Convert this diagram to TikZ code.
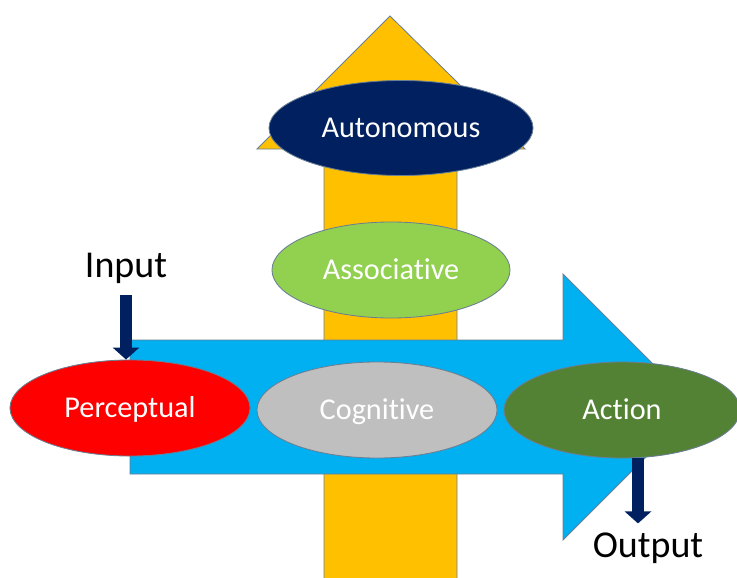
\documentclass[tikz,border=0pt]{standalone}
\usepackage{fontspec}
\setmainfont{Carlito}[Ligatures=NoCommon]
\usetikzlibrary{arrows.meta,shapes.geometric}
\definecolor{amber}{HTML}{FFC000}
\definecolor{sky}{HTML}{00B0F0}
\definecolor{navy}{HTML}{002060}
\definecolor{lime}{HTML}{92D050}
\definecolor{moss}{HTML}{548235}
\definecolor{silver}{HTML}{BFBFBF}
\definecolor{rim}{HTML}{6A7F94}

\begin{document}
\begin{tikzpicture}[x=0.025cm, y=-0.025cm,
  stage/.style={ellipse, draw=rim, line width=0.6pt, inner sep=0pt,
    minimum width=6cm, minimum height=2.4cm, text=white,
    font=\fontsize{21.5}{24}\selectfont, text height=13.8pt, text depth=0pt},
  iotext/.style={font=\fontsize{27}{30}\selectfont, anchor=base},
  io/.style={draw=navy, line width=0.3cm, -{Triangle[width=0.65cm,length=0.3cm]}}]
  \useasboundingbox (0,0) rectangle (737,578);

  % Vertical arrow (learning stages)
  \filldraw[fill=amber, draw=rim, line width=0.6pt]
    (324,582) -- (324,149) -- (257,149) -- (390,16) -- (525,149)
    -- (457,149) -- (457,582) -- cycle;

  % Horizontal arrow (processing)
  \filldraw[fill=sky, draw=rim, line width=0.6pt]
    (130,340) -- (563,340) -- (563,274) -- (696,407) -- (563,540)
    -- (563,474) -- (130,474) -- cycle;

  % Stages
  \node[stage, fill=navy, minimum width=6.6cm, minimum height=2.375cm] (auto) at (401,128) {Autonomous};
  \node[stage, fill=lime, minimum width=5.95cm] (assoc) at (391,270) {Associative};
  \node[stage, fill=red] (perc) at (130,408) {Perceptual};
  \node[stage, fill=silver] (cogn) at (377,410) {Cognitive};
  \node[stage, fill=moss, minimum width=5.9cm] (act) at (622,410) {Action};

  % In and out
  \node[iotext] (input) at (126,277) {Input};
  \node[iotext] (output) at (648,557) {Output};
  \draw[io] ([yshift=-0.45cm]input.base) -- (input.base |- perc.north);
  \draw[io] ([xshift=0.4cm]act.south) -- ++(0,65);
\end{tikzpicture}
\end{document}
